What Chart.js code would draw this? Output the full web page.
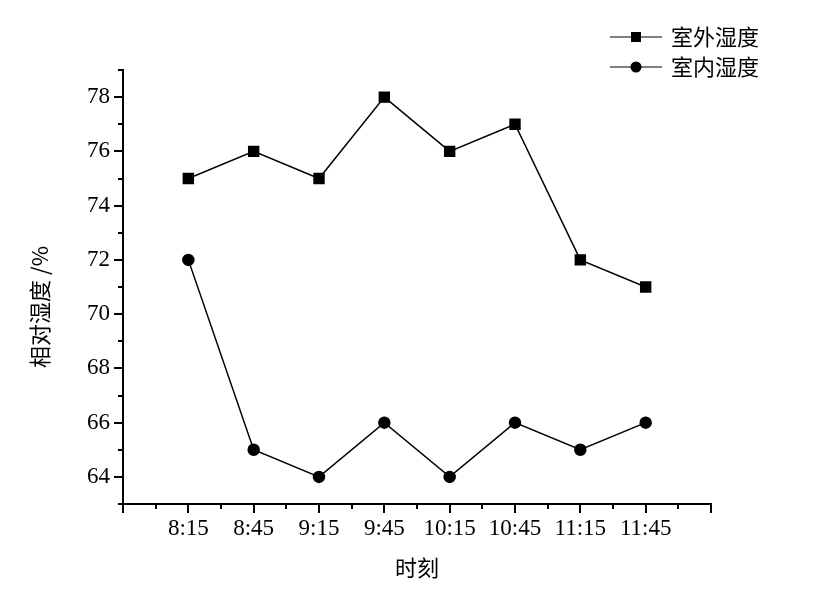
<!DOCTYPE html>
<html>
<head>
<meta charset="utf-8">
<script src="https://cdn.jsdelivr.net/npm/chart.js@4"></script>
<style>
  html, body { margin: 0; padding: 0; background: #fff; }
  canvas { display: block; }
</style>
</head>
<body>
<canvas id="chart" width="821" height="592"></canvas>
<script>
const times = ['8:15', '8:45', '9:15', '9:45', '10:15', '10:45', '11:15', '11:45'];
const outdoor = [75, 76, 75, 78, 76, 77, 72, 71];
const indoor = [72, 65, 64, 66, 64, 66, 65, 66];
const seriesNames = ['室外湿度', '室内湿度'];
const xTitle = '时刻';
const yTitle = '相对湿度 /%';

const serif = '"Liberation Serif", "DejaVu Serif", serif';
const cjk = '"Noto Sans CJK SC", "Noto Sans", sans-serif';

function toPoints(values) {
    return values.map((v, i) => ({ x: i, y: v }));
}

// tick marks: long at majors, short in between
const tickMarks = {
    id: 'tickMarks',
    afterDraw(chart) {
        const ctx = chart.ctx;
        const xs = chart.scales.x;
        const ys = chart.scales.y;
        ctx.save();
        ctx.strokeStyle = '#000';
        ctx.lineWidth = 2;
        ctx.beginPath();
        xs.ticks.forEach(t => {
            const px = Math.round(xs.getPixelForValue(t.value));
            const len = Number.isInteger(t.value) ? 9 : 5;
            ctx.moveTo(px, xs.top);
            ctx.lineTo(px, xs.top + len);
        });
        ys.ticks.forEach(t => {
            const py = Math.round(ys.getPixelForValue(t.value));
            const len = t.value % 2 === 0 ? 9 : 5;
            ctx.moveTo(ys.right, py);
            ctx.lineTo(ys.right - len, py);
        });
        ctx.stroke();

        // y axis title, a bit below the axis middle like the original
        ctx.font = '22px ' + cjk;
        ctx.fillStyle = '#000';
        ctx.textAlign = 'center';
        ctx.textBaseline = 'middle';
        ctx.translate(40, 307);
        ctx.rotate(-Math.PI / 2);
        ctx.fillText(yTitle, 0, 0);
        ctx.restore();
    }
};

// legend: line with marker, then the name
const lineLegend = {
    id: 'lineLegend',
    afterDraw(chart) {
        const ctx = chart.ctx;
        ctx.save();
        chart.data.datasets.forEach((ds, i) => {
            const y = 37 + i * 30;
            ctx.strokeStyle = '#555';
            ctx.lineWidth = 1.5;
            ctx.beginPath();
            ctx.moveTo(610, y);
            ctx.lineTo(662, y);
            ctx.stroke();
            ctx.fillStyle = '#000';
            if (ds.pointStyle === 'rect') {
                ctx.fillRect(631, y - 5, 10, 10);
            } else {
                ctx.beginPath();
                ctx.arc(636, y, 5.5, 0, Math.PI * 2);
                ctx.fill();
            }
            ctx.font = '22px ' + cjk;
            ctx.textBaseline = 'middle';
            ctx.fillText(ds.label, 671, y);
        });
        ctx.restore();
    }
};

new Chart(document.getElementById('chart'), {
    type: 'line',
    data: {
        datasets: [
            {
                label: seriesNames[0],
                data: toPoints(outdoor),
                borderColor: '#000',
                backgroundColor: '#000',
                borderWidth: 1.5,
                pointStyle: 'rect',
                pointRadius: 7,
                pointHoverRadius: 7
            },
            {
                label: seriesNames[1],
                data: toPoints(indoor),
                borderColor: '#000',
                backgroundColor: '#000',
                borderWidth: 1.5,
                pointStyle: 'circle',
                pointRadius: 5.5,
                pointHoverRadius: 5.5
            }
        ]
    },
    options: {
        responsive: false,
        animation: false,
        devicePixelRatio: 1,
        layout: { padding: { left: 0, top: 70, right: 110, bottom: 0 } },
        plugins: {
            legend: { display: false },
            tooltip: { enabled: false }
        },
        scales: {
            x: {
                type: 'linear',
                min: -1,
                max: 8,
                afterFit: (s) => { s.height = 88; },
                afterBuildTicks: (s) => {
                    const t = [];
                    for (let v = -1; v <= 8; v += 0.5) t.push({ value: v });
                    s.ticks = t;
                },
                ticks: {
                    autoSkip: false,
                    maxRotation: 0,
                    padding: 11,
                    color: '#000',
                    font: { family: serif, size: 23 },
                    callback: (v) => (Number.isInteger(v) && v >= 0 && v < times.length) ? times[v] : ''
                },
                grid: { display: false, drawTicks: false },
                border: { display: true, color: '#000', width: 2 },
                title: {
                    display: true,
                    text: xTitle,
                    color: '#000',
                    font: { family: cjk, size: 22 },
                    padding: { top: 0, bottom: 11 }
                }
            },
            y: {
                min: 63,
                max: 79,
                afterFit: (s) => { s.width = 123; },
                ticks: {
                    stepSize: 1,
                    autoSkip: false,
                    padding: 13,
                    color: '#000',
                    font: { family: serif, size: 23 },
                    callback: (v) => v % 2 === 0 ? v : ''
                },
                grid: { display: false, drawTicks: false },
                border: { display: true, color: '#000', width: 2 }
            }
        }
    },
    plugins: [tickMarks, lineLegend]
});
</script>
</body>
</html>
